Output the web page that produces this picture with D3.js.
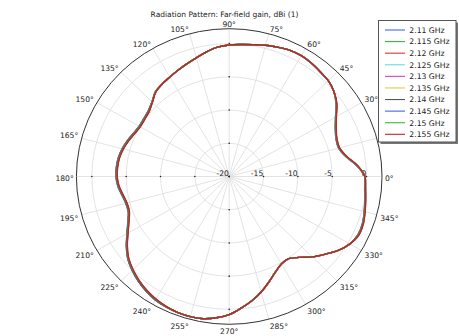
<!DOCTYPE html>
<html>
<head>
<meta charset="utf-8">
<script src="https://cdn.jsdelivr.net/npm/d3@7"></script>
<style>
  html, body { margin: 0; padding: 0; background: #fff; }
  svg { display: block; font-family: "DejaVu Sans", sans-serif; }
</style>
</head>
<body>
<svg id="chart" width="459" height="336"></svg>
<script>
// Far-field gain (dBi) sampled every 5 degrees, 0..355, one array per frequency
const angles = d3.range(0, 360, 5);

const gain2110 = [-0.25,-1.35,-2.75,-3.5,-3.45,-2.95,-2.12,-1.0,-0.1,0.4,0.6,0.85,1.0,0.95,0.7,0.45,0.15,-0.05,-0.2,-0.45,-0.95,-1.5,-1.95,-2.35,-2.7,-3.0,-3.3,-4.1,-4.6,-4.8,-4.85,-4.6,-4.2,-3.85,-3.6,-3.5,-3.5,-3.7,-4.1,-4.4,-4.35,-3.7,-2.8,-1.7,-0.7,0.0,0.6,1.1,1.5,1.7,1.8,1.84,1.75,1.35,0.8,-0.1,-1.0,-2.0,-3.1,-4.1,-4.8,-4.9,-4.1,-2.9,-1.8,-0.6,0.3,0.7,0.65,0.35,0.05,-0.2];
const gain2115 = [-0.25,-1.35,-2.75,-3.5,-3.45,-2.95,-2.12,-1.0,-0.1,0.4,0.6,0.85,1.0,0.95,0.7,0.45,0.15,-0.05,-0.2,-0.45,-0.95,-1.5,-1.95,-2.35,-2.7,-3.0,-3.31,-4.11,-4.62,-4.82,-4.87,-4.62,-4.22,-3.87,-3.62,-3.52,-3.52,-3.72,-4.12,-4.42,-4.37,-3.72,-2.82,-1.72,-0.72,-0.02,0.58,1.08,1.48,1.69,1.8,1.84,1.75,1.35,0.8,-0.1,-1.0,-2.0,-3.1,-4.1,-4.8,-4.9,-4.1,-2.9,-1.8,-0.6,0.3,0.71,0.66,0.36,0.06,-0.19];
const gain2120 = [-0.25,-1.33,-2.73,-3.48,-3.43,-2.93,-2.1,-0.98,-0.1,0.4,0.6,0.85,1.0,0.95,0.7,0.45,0.15,-0.05,-0.2,-0.45,-0.95,-1.5,-1.95,-2.35,-2.7,-3.0,-3.32,-4.12,-4.64,-4.84,-4.89,-4.64,-4.24,-3.89,-3.64,-3.54,-3.54,-3.74,-4.14,-4.44,-4.39,-3.74,-2.84,-1.74,-0.74,-0.04,0.56,1.06,1.46,1.68,1.8,1.84,1.75,1.35,0.8,-0.1,-1.0,-2.0,-3.1,-4.1,-4.8,-4.9,-4.1,-2.9,-1.8,-0.6,0.3,0.72,0.67,0.37,0.07,-0.18];
const gain2125 = [-0.25,-1.3,-2.7,-3.45,-3.4,-2.9,-2.07,-0.95,-0.1,0.4,0.6,0.85,1.0,0.95,0.7,0.45,0.15,-0.05,-0.2,-0.45,-0.95,-1.5,-1.95,-2.35,-2.7,-3.0,-3.34,-4.14,-4.68,-4.88,-4.93,-4.68,-4.28,-3.93,-3.68,-3.58,-3.58,-3.78,-4.18,-4.48,-4.43,-3.78,-2.88,-1.78,-0.78,-0.08,0.52,1.02,1.42,1.66,1.8,1.84,1.75,1.35,0.8,-0.1,-1.0,-2.0,-3.1,-4.1,-4.8,-4.9,-4.1,-2.9,-1.8,-0.6,0.3,0.75,0.7,0.4,0.1,-0.15];
const gain2130 = [-0.25,-1.29,-2.69,-3.44,-3.39,-2.89,-2.06,-0.94,-0.1,0.4,0.6,0.85,1.0,0.95,0.7,0.45,0.15,-0.05,-0.2,-0.45,-0.95,-1.5,-1.95,-2.35,-2.7,-3.0,-3.35,-4.15,-4.7,-4.9,-4.95,-4.7,-4.3,-3.95,-3.7,-3.6,-3.6,-3.8,-4.2,-4.5,-4.45,-3.8,-2.9,-1.8,-0.8,-0.1,0.5,1.0,1.4,1.65,1.8,1.84,1.75,1.35,0.8,-0.1,-1.0,-2.0,-3.1,-4.1,-4.8,-4.9,-4.1,-2.9,-1.8,-0.6,0.3,0.76,0.71,0.41,0.11,-0.14];
const gain2135 = [-0.25,-1.28,-2.68,-3.43,-3.38,-2.88,-2.05,-0.93,-0.1,0.4,0.6,0.85,1.0,0.95,0.7,0.45,0.15,-0.05,-0.2,-0.45,-0.95,-1.5,-1.95,-2.35,-2.7,-3.0,-3.35,-4.15,-4.71,-4.91,-4.96,-4.71,-4.31,-3.96,-3.71,-3.61,-3.61,-3.81,-4.21,-4.51,-4.46,-3.81,-2.91,-1.81,-0.81,-0.11,0.49,0.99,1.39,1.64,1.8,1.84,1.75,1.35,0.8,-0.1,-1.0,-2.0,-3.1,-4.1,-4.8,-4.9,-4.1,-2.9,-1.8,-0.6,0.3,0.77,0.72,0.42,0.12,-0.13];
const gain2140 = [-0.25,-1.3,-2.7,-3.45,-3.4,-2.9,-2.07,-0.95,-0.1,0.4,0.6,0.85,1.0,0.95,0.7,0.45,0.15,-0.05,-0.2,-0.45,-0.95,-1.5,-1.95,-2.35,-2.7,-3.0,-3.32,-4.12,-4.66,-4.86,-4.91,-4.66,-4.26,-3.91,-3.66,-3.56,-3.56,-3.76,-4.16,-4.46,-4.41,-3.76,-2.86,-1.76,-0.76,-0.06,0.54,1.04,1.44,1.67,1.8,1.84,1.75,1.35,0.8,-0.1,-1.0,-2.0,-3.1,-4.1,-4.8,-4.9,-4.1,-2.9,-1.8,-0.6,0.3,0.74,0.69,0.39,0.09,-0.16];
const gain2145 = [-0.25,-1.25,-2.65,-3.4,-3.35,-2.85,-2.02,-0.9,-0.1,0.4,0.6,0.85,1.0,0.95,0.7,0.45,0.15,-0.05,-0.2,-0.45,-0.95,-1.5,-1.95,-2.35,-2.7,-3.0,-3.37,-4.17,-4.75,-4.95,-5.0,-4.75,-4.35,-4.0,-3.75,-3.65,-3.65,-3.85,-4.25,-4.55,-4.5,-3.85,-2.95,-1.85,-0.85,-0.15,0.45,0.95,1.35,1.63,1.8,1.84,1.75,1.35,0.8,-0.1,-1.0,-2.0,-3.1,-4.1,-4.8,-4.9,-4.1,-2.9,-1.8,-0.6,0.3,0.8,0.75,0.45,0.15,-0.1];
const gain2150 = [-0.25,-1.23,-2.63,-3.38,-3.33,-2.83,-2.0,-0.88,-0.1,0.4,0.6,0.85,1.0,0.95,0.7,0.45,0.15,-0.05,-0.2,-0.45,-0.95,-1.5,-1.95,-2.35,-2.7,-3.0,-3.38,-4.18,-4.77,-4.97,-5.02,-4.77,-4.37,-4.02,-3.77,-3.67,-3.67,-3.87,-4.27,-4.57,-4.52,-3.87,-2.97,-1.87,-0.87,-0.17,0.43,0.93,1.33,1.62,1.8,1.84,1.75,1.35,0.8,-0.1,-1.0,-2.0,-3.1,-4.1,-4.8,-4.9,-4.1,-2.9,-1.8,-0.6,0.3,0.82,0.77,0.47,0.17,-0.08];
const gain2155 = [-0.25,-1.2,-2.6,-3.35,-3.3,-2.8,-1.97,-0.85,-0.1,0.4,0.6,0.85,1.0,0.95,0.7,0.45,0.15,-0.05,-0.2,-0.45,-0.95,-1.5,-1.95,-2.35,-2.7,-3.0,-3.4,-4.2,-4.8,-5.0,-5.05,-4.8,-4.4,-4.05,-3.8,-3.7,-3.7,-3.9,-4.3,-4.6,-4.55,-3.9,-3.0,-1.9,-0.9,-0.2,0.4,0.9,1.3,1.6,1.8,1.84,1.75,1.35,0.8,-0.1,-1.0,-2.0,-3.1,-4.1,-4.8,-4.9,-4.1,-2.9,-1.8,-0.6,0.3,0.85,0.8,0.5,0.2,-0.05];

const frequencies = ["2.11 GHz","2.115 GHz","2.12 GHz","2.125 GHz","2.13 GHz","2.135 GHz","2.14 GHz","2.145 GHz","2.15 GHz","2.155 GHz"];
const seriesValues = [gain2110,gain2115,gain2120,gain2125,gain2130,gain2135,gain2140,gain2145,gain2150,gain2155];
const seriesColors = ["#4466ee","#33bb33","#dd3333","#66dddd","#cc44cc","#e8c840","#555555","#4466ee","#33bb33","#c82222"];

const ringValues = [-20, -15, -10, -5, 0];
const angleTicks = d3.range(0, 360, 15);
const titleText = "Radiation Pattern: Far-field gain, dBi (1)";

// Plot geometry
const cx = 229.2, cy = 176.5, rx = 152.8, ry = 147.8;
const rMin = -20, rMax = 2.25;

const svg = d3.select("#chart");
const r = d3.scaleLinear().domain([rMin, rMax]).range([0, 1]);
const theta = d3.scaleLinear().domain([0, 360]).range([0, 2 * Math.PI]);

const px = (v, a) => cx + rx * r(v) * Math.cos(theta(a));
const py = (v, a) => cy - ry * r(v) * Math.sin(theta(a));

const grid = svg.append("g");

// spokes
grid.selectAll("line.spoke").data(angleTicks).join("line")
  .attr("x1", cx).attr("y1", cy)
  .attr("x2", d => px(rMax, d)).attr("y2", d => py(rMax, d))
  .attr("stroke", "#e0e0e0").attr("stroke-width", 0.9);

// rings
grid.selectAll("ellipse.ring").data(ringValues.filter(v => v > rMin)).join("ellipse")
  .attr("cx", cx).attr("cy", cy)
  .attr("rx", d => rx * r(d)).attr("ry", d => ry * r(d))
  .attr("fill", "none").attr("stroke", "#e0e0e0").attr("stroke-width", 0.9);

// outer boundary
grid.append("ellipse")
  .attr("cx", cx).attr("cy", cy).attr("rx", rx).attr("ry", ry)
  .attr("fill", "none").attr("stroke", "#333").attr("stroke-width", 1);

// tick dots along the main axes
const dotData = [];
[0, 90, 180, 270].forEach(a => ringValues.forEach(v => dotData.push({a, v})));
grid.selectAll("circle.dot").data(dotData).join("circle")
  .attr("cx", d => px(d.v, d.a)).attr("cy", d => py(d.v, d.a))
  .attr("r", 0.8).attr("fill", "#222");

// radial labels
svg.append("g").selectAll("text").data(ringValues).join("text")
  .attr("x", d => px(d, 0) - 0.3).attr("y", cy - 0.5)
  .attr("text-anchor", "end")
  .attr("font-size", 7.6).attr("fill", "#222")
  .text(d => d);

// angle labels
const angLab = svg.append("g");
angleTicks.forEach(a => {
  const c = Math.cos(theta(a)), s = Math.sin(theta(a));
  let x = px(rMax, a) + 3.5 * c;
  let y = py(rMax, a);
  let anchor = Math.abs(c) < 0.01 ? "middle" : (c > 0 ? "start" : "end");
  if (Math.abs(c) < 0.01) x = px(rMax, a);
  let base;
  if (Math.abs(s) < 0.01) { base = cy + 4.4; if (c > 0) x = px(rMax, a) + 3; else x = px(rMax, a) - 2.7; }
  else if (s > 0) base = y - 1.8 * s;
  else base = y + 4.4 * (-s) + 5.6;
  angLab.append("text")
    .attr("x", x).attr("y", base)
    .attr("text-anchor", anchor)
    .attr("font-size", 7.6).attr("fill", "#222")
    .text(a + "°");
});

// curves
const line = d3.line()
  .x(d => px(d.v, d.a)).y(d => py(d.v, d.a))
  .curve(d3.curveCatmullRomClosed.alpha(0.5));

svg.append("g").selectAll("path").data(seriesValues).join("path")
  .attr("d", vals => line(angles.map((a, i) => ({a, v: vals[i]}))))
  .attr("fill", "none")
  .attr("stroke", (d, i) => seriesColors[i])
  .attr("stroke-width", 1.4);

// title
svg.append("text")
  .attr("x", 224.5).attr("y", 17)
  .attr("text-anchor", "middle")
  .attr("font-size", 7.5).attr("fill", "#222")
  .text(titleText);

// legend
const lg = svg.append("g");
const lx = 378.5, ly = 20.5, lw = 77.5, lh = 121.5;
lg.append("rect").attr("x", lx + 2).attr("y", ly + 2).attr("width", lw).attr("height", lh)
  .attr("fill", "#777");
lg.append("rect").attr("x", lx).attr("y", ly).attr("width", lw).attr("height", lh)
  .attr("fill", "#fff").attr("stroke", "#555").attr("stroke-width", 1);
const rowY = d3.scaleLinear().domain([0, frequencies.length - 1]).range([30, 134.3]);
frequencies.forEach((f, i) => {
  lg.append("line")
    .attr("x1", 385).attr("x2", 405)
    .attr("y1", rowY(i)).attr("y2", rowY(i))
    .attr("stroke", seriesColors[i]).attr("stroke-width", 1.1);
  lg.append("text")
    .attr("x", 409.3).attr("y", rowY(i) + 2.8)
    .attr("font-size", 7.7).attr("fill", "#222")
    .text(f);
});
</script>
</body>
</html>
